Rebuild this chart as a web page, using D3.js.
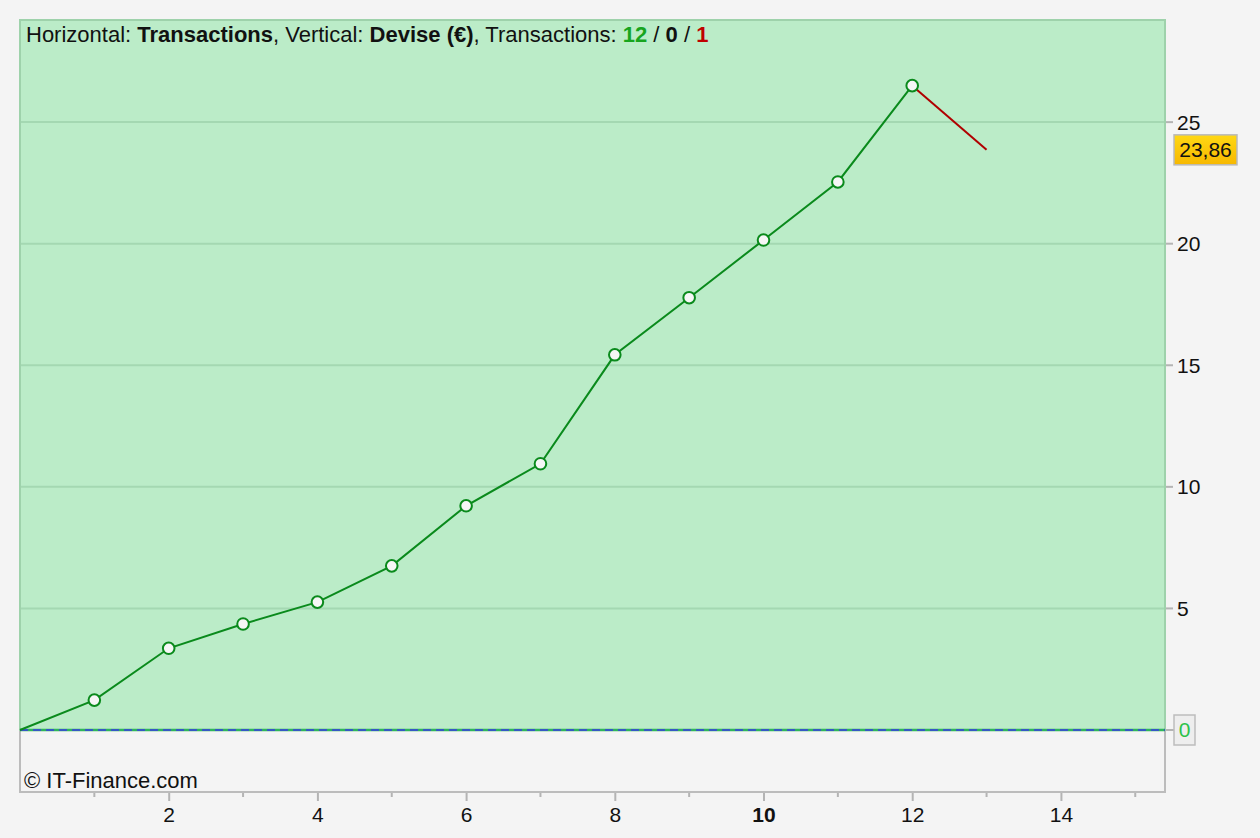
<!DOCTYPE html>
<html>
<head>
<meta charset="utf-8">
<script src="https://cdn.jsdelivr.net/npm/d3@7"></script>
<style>
  body { margin: 0; background: #f4f4f4; }
  svg { display: block; font-family: "Liberation Sans", Arial, sans-serif; }
</style>
</head>
<body>
<svg id="chart" width="1260" height="838"></svg>
<script>
// transaction number and cumulative result (EUR)
const transactions = [0, 1, 2, 3, 4, 5, 6, 7, 8, 9, 10, 11, 12];
const cumulative = [0, 1.23, 3.36, 4.36, 5.26, 6.75, 9.22, 10.95, 15.43, 17.78, 20.15, 22.54, 26.50];
const openTrade = [12, 13];
const openValues = [26.50, 23.86];
const lastValue = "23,86";
const yTicks = [5, 10, 15, 20, 25];
const xTicks = [2, 4, 6, 8, 10, 12, 14];
const xMinorTicks = [1, 3, 5, 7, 9, 11, 13, 15];

const svg = d3.select("#chart");
const plotL = 20, plotR = 1165, plotT = 20, plotB = 792;

const x = d3.scaleLinear().domain([0, 15.4]).range([plotL, plotR]);
const y = d3.scaleLinear().domain([-2.55, 29.2]).range([plotB, plotT]);

// background frame
svg.append("rect").attr("x", plotL).attr("y", plotT)
  .attr("width", plotR - plotL).attr("height", plotB - plotT)
  .attr("fill", "#f4f4f4").attr("stroke", "#bcbcbc").attr("stroke-width", 2);

// green zone above zero
svg.append("rect").attr("x", plotL).attr("y", plotT)
  .attr("width", plotR - plotL).attr("height", y(0) - plotT)
  .attr("fill", "#bbecc8").attr("stroke", "#9ed2ab").attr("stroke-width", 2);

// horizontal grid + right axis
yTicks.forEach(function(t){
  svg.append("line").attr("x1", plotL + 1).attr("x2", plotR - 1)
    .attr("y1", y(t)).attr("y2", y(t))
    .attr("stroke", "#a4d8b2").attr("stroke-width", 2);
  svg.append("line").attr("x1", plotR + 1).attr("x2", plotR + 8)
    .attr("y1", y(t)).attr("y2", y(t))
    .attr("stroke", "#b4b4b4").attr("stroke-width", 2);
  svg.append("text").attr("x", plotR + 12).attr("y", y(t) + 7.5)
    .attr("font-size", 21).attr("fill", "#111").text(t);
});

// bottom axis
const xAxis = d3.axisBottom(x).tickValues(xTicks).tickSize(8).tickPadding(6);
const gx = svg.append("g").attr("transform", "translate(0," + (plotB + 1) + ")").call(xAxis);
gx.select(".domain").remove();
gx.selectAll(".tick line").attr("stroke", "#b4b4b4").attr("stroke-width", 2);
gx.selectAll(".tick text").attr("font-size", 21).attr("fill", "#111")
  .attr("font-family", "Liberation Sans, Arial, sans-serif")
  .attr("font-weight", function(d){ return d == 10 ? "bold" : "normal"; });
svg.append("g").selectAll("line").data(xMinorTicks).enter().append("line")
  .attr("x1", function(d){ return x(d); }).attr("x2", function(d){ return x(d); })
  .attr("y1", plotB + 1).attr("y2", plotB + 5)
  .attr("stroke", "#b4b4b4").attr("stroke-width", 2);

// zero line
svg.append("line").attr("x1", plotL).attr("x2", plotR).attr("y1", y(0)).attr("y2", y(0))
  .attr("stroke", "#2fb55a").attr("stroke-width", 2.5);
svg.append("line").attr("x1", plotL).attr("x2", plotR).attr("y1", y(0)).attr("y2", y(0))
  .attr("stroke", "#3a3ae6").attr("stroke-width", 1.5).attr("stroke-dasharray", "8,5");
svg.append("line").attr("x1", plotR + 1).attr("x2", plotR + 9).attr("y1", y(0)).attr("y2", y(0))
  .attr("stroke", "#b4b4b4").attr("stroke-width", 2);
svg.append("rect").attr("x", 1174).attr("y", y(0) - 15).attr("width", 21).attr("height", 30)
  .attr("fill", "#eeeeee").attr("stroke", "#bdbdbd").attr("stroke-width", 1.5);
svg.append("text").attr("x", 1184.5).attr("y", y(0) + 7.5).attr("text-anchor", "middle")
  .attr("font-size", 21).attr("fill", "#2cc24a").text("0");

// equity line
const line = d3.line().x(function(d){ return x(d[0]); }).y(function(d){ return y(d[1]); });
svg.append("path").datum(d3.zip(openTrade, openValues)).attr("d", line)
  .attr("fill", "none").attr("stroke", "#b00000").attr("stroke-width", 2);
svg.append("path").datum(d3.zip(transactions, cumulative)).attr("d", line)
  .attr("fill", "none").attr("stroke", "#0a8a1c").attr("stroke-width", 2);
svg.append("g").selectAll("circle").data(d3.zip(transactions, cumulative).slice(1)).enter()
  .append("circle")
  .attr("cx", function(d){ return x(d[0]); }).attr("cy", function(d){ return y(d[1]); })
  .attr("r", 5.8).attr("fill", "#f6f6f6").attr("stroke", "#0a8a1c").attr("stroke-width", 2);

// last value label
const grad = svg.append("defs").append("linearGradient").attr("id", "gold")
  .attr("x1", 0).attr("x2", 0).attr("y1", 0).attr("y2", 1);
grad.append("stop").attr("offset", "0%").attr("stop-color", "#ffd814");
grad.append("stop").attr("offset", "100%").attr("stop-color", "#f7b800");
const ly = y(openValues[openValues.length - 1]);
svg.append("rect").attr("x", 1174).attr("y", ly - 15).attr("width", 63).attr("height", 30)
  .attr("fill", "url(#gold)").attr("stroke", "#b9b9b9").attr("stroke-width", 1.5);
svg.append("text").attr("x", 1205.5).attr("y", ly + 7.5).attr("text-anchor", "middle")
  .attr("font-size", 21).attr("fill", "#111").text(lastValue);

// title
const title = svg.append("text").attr("x", 26).attr("y", 42).attr("font-size", 22).attr("fill", "#111");
[["Horizontal: ", "normal", "#111"], ["Transactions", "bold", "#111"], [", Vertical: ", "normal", "#111"],
 ["Devise (€)", "bold", "#111"], [", Transactions: ", "normal", "#111"], ["12", "bold", "#17a51e"],
 [" / ", "normal", "#111"], ["0", "bold", "#111"], [" / ", "normal", "#111"], ["1", "bold", "#c00000"]]
  .forEach(function(p){
    title.append("tspan").attr("font-weight", p[1]).attr("fill", p[2]).text(p[0]);
  });

svg.append("text").attr("x", 24).attr("y", 788).attr("font-size", 22).attr("fill", "#111")
  .text("© IT-Finance.com");
</script>
</body>
</html>
